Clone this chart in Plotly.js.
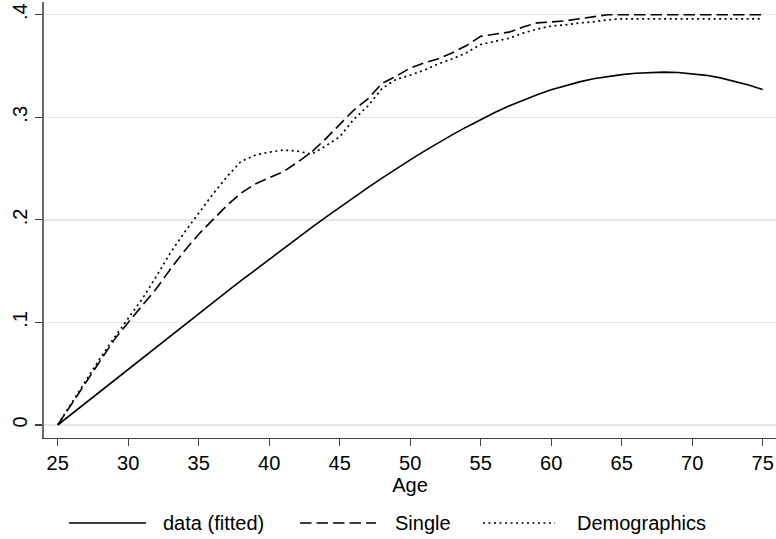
<!DOCTYPE html>
<html>
<head>
<meta charset="utf-8">
<script src="https://cdn.plot.ly/plotly-3.0.1.min.js"></script>
<style>
  html, body { margin: 0; padding: 0; background: #ffffff; }
  #chart { width: 776px; height: 539px; }
</style>
</head>
<body>
<div id="chart"></div>
<script>
// ---- Data ----
var ages = [25,26,27,28,29,30,31,32,33,34,35,36,37,38,39,40,41,42,43,44,45,46,47,48,49,50,
            51,52,53,54,55,56,57,58,59,60,61,62,63,64,65,66,67,68,69,70,71,72,73,74,75];

var fitted = [0,0.0109,0.0218,0.0327,0.0436,0.0545,0.0654,0.0762,0.0871,0.0979,
              0.1086,0.1194,0.1301,0.1407,0.1512,0.1617,0.1720,0.1823,0.1924,0.2024,
              0.2122,0.2219,0.2314,0.2406,0.2497,0.2584,0.2670,0.2752,0.2831,0.2906,
              0.2978,0.3047,0.3110,0.3168,0.3220,0.3268,0.3310,0.3345,0.3375,0.3398,
              0.3416,0.3429,0.3437,0.3440,0.3437,0.3426,0.3409,0.3384,0.3353,0.3315,0.3270];

var single = [0,0.021,0.042,0.063,0.083,0.100,0.116,0.133,0.152,0.170,
              0.186,0.200,0.214,0.226,0.235,0.241,0.247,0.256,0.266,0.279,
              0.293,0.307,0.318,0.333,0.340,0.348,0.353,0.357,0.363,0.370,
              0.379,0.381,0.383,0.388,0.392,0.393,0.394,0.396,0.398,0.400,
              0.400,0.400,0.400,0.400,0.400,0.400,0.400,0.400,0.400,0.400,0.400];

var demographics = [0,0.022,0.043,0.065,0.085,0.104,0.123,0.145,0.168,0.188,
                    0.207,0.225,0.242,0.257,0.263,0.266,0.268,0.267,0.264,0.272,
                    0.281,0.298,0.311,0.328,0.337,0.341,0.346,0.352,0.357,0.363,
                    0.371,0.374,0.377,0.382,0.386,0.389,0.390,0.392,0.393,0.395,
                    0.396,0.396,0.396,0.396,0.396,0.396,0.396,0.396,0.396,0.396,0.396];

var seriesNames = ['data (fitted)', 'Single', 'Demographics'];
var yTickVals = [0, 0.1, 0.2, 0.3, 0.4];
var yTickText = ['0', '.1', '.2', '.3', '.4'];
var xTitle = 'Age';

// ---- Styling ----
var FONT = 'Liberation Sans, Arial, Helvetica, sans-serif';
var dashes = ['solid', '11.5px,5px', '2px,3.5px'];
var widths = [1.6, 1.6, 1.7];
var W = 776, H = 539;
var M = {l: 44, r: 0, t: 2, b: 101};

var allY = [fitted, single, demographics];
var traces = allY.map(function (ys, i) {
  return {
    type: 'scatter', mode: 'lines', x: ages, y: ys, name: seriesNames[i],
    line: {color: '#000000', width: widths[i], dash: dashes[i]},
    showlegend: false, hoverinfo: 'skip'
  };
});

// custom legend (pixel layout -> paper coordinates)
var plotW = W - M.l - M.r, plotH = H - M.t - M.b;
function px(xp) { return (xp - M.l) / plotW; }
function py(yp) { return (H - M.b - yp) / plotH; }
var legY = 523;
var legItems = [
  {x0: 69, x1: 146, tx: 161},
  {x0: 300, x1: 376, tx: 393},
  {x0: 483, x1: 555, tx: 575}
];
var shapes = [], annotations = [];
legItems.forEach(function (it, i) {
  shapes.push({type: 'line', xref: 'paper', yref: 'paper',
    x0: px(it.x0), x1: px(it.x1), y0: py(legY), y1: py(legY),
    line: {color: '#000000', width: widths[i], dash: dashes[i]}});
  annotations.push({xref: 'paper', yref: 'paper', x: px(it.tx), y: py(legY),
    xanchor: 'left', yanchor: 'middle', showarrow: false, text: seriesNames[i],
    font: {family: FONT, size: 20, color: '#000000'}});
});

var layout = {
  width: W, height: H,
  margin: M,
  paper_bgcolor: '#ffffff', plot_bgcolor: '#ffffff',
  font: {family: FONT, size: 20, color: '#000000'},
  showlegend: false,
  xaxis: {
    range: [24.028, 75.943], tick0: 25, dtick: 5, tickmode: 'linear',
    showgrid: false, zeroline: false,
    showline: true, linecolor: '#404040', linewidth: 1.3,
    ticks: 'outside', ticklen: 7, tickwidth: 1.2, tickcolor: '#404040',
    tickfont: {family: FONT, size: 20, color: '#000000'},
    title: {text: xTitle, standoff: 2, font: {family: FONT, size: 20, color: '#000000'}},
    automargin: false
  },
  yaxis: {
    range: [-0.01267, 0.41239],
    tickmode: 'array', tickvals: yTickVals, ticktext: yTickText,
    tickangle: -90,
    showgrid: true, gridcolor: '#e6e6e6', gridwidth: 1.5,
    zeroline: false,
    showline: true, linecolor: '#6a6a6a', linewidth: 1.6,
    ticks: 'outside', ticklen: 7, tickwidth: 1.2, tickcolor: '#404040',
    tickfont: {family: FONT, size: 20, color: '#000000'},
    automargin: false
  },
  shapes: shapes,
  annotations: annotations
};

Plotly.newPlot('chart', traces, layout, {displayModeBar: false, staticPlot: true});
</script>
</body>
</html>
